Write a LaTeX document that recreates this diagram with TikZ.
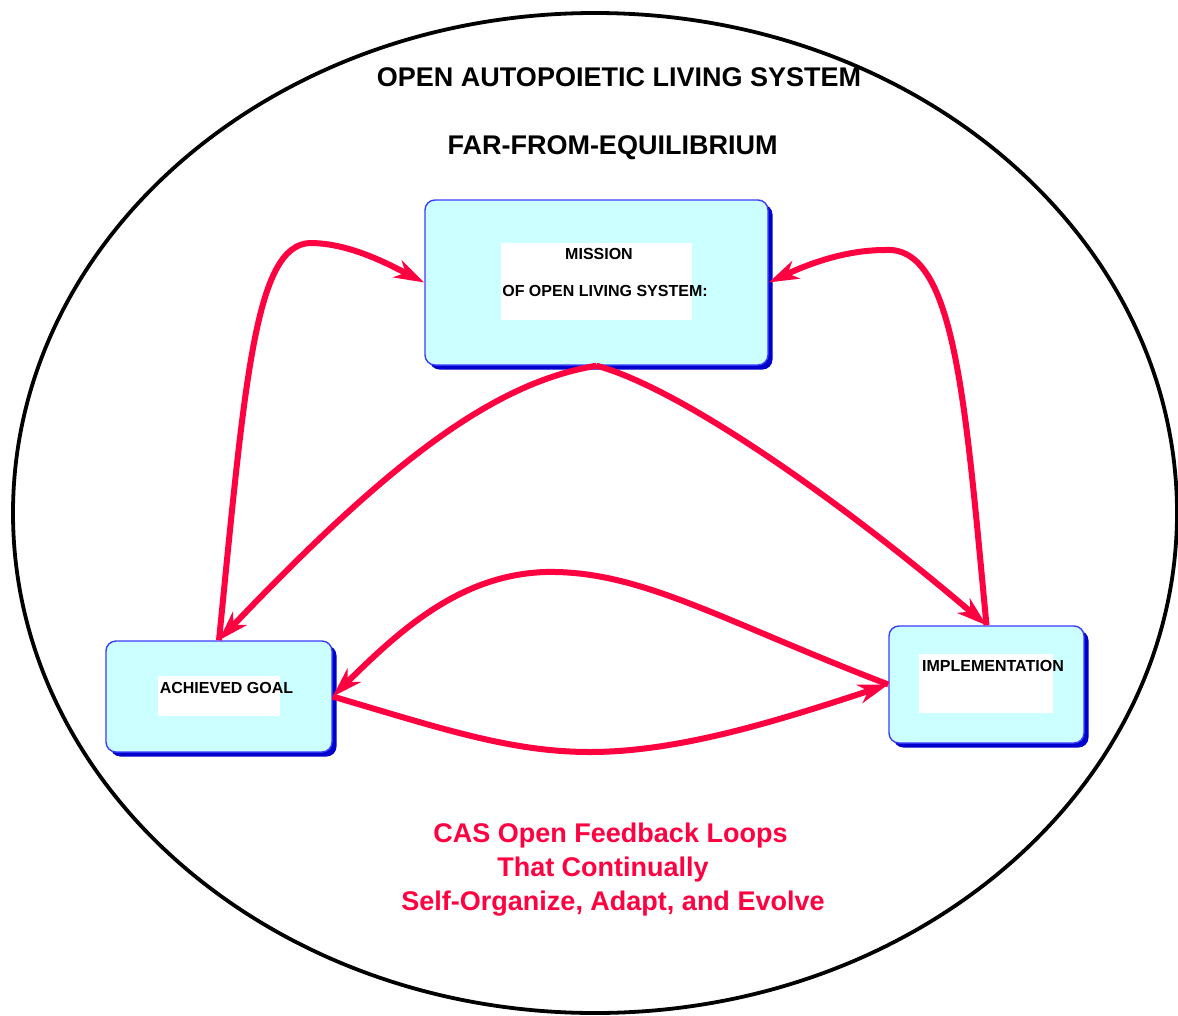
\documentclass[tikz,border=0pt]{standalone}
\usepackage{fontspec}
\setmainfont{Liberation Sans}
\usetikzlibrary{arrows.meta,shadows}

\definecolor{loopred}{RGB}{255,0,64}
\definecolor{boxfill}{RGB}{204,255,255}
\definecolor{boxedge}{RGB}{60,60,255}
\definecolor{boxshade}{RGB}{0,0,204}

\begin{document}
\begin{tikzpicture}[x=1pt,y=-1pt,
  livebox/.style={draw=boxedge, line width=1.4pt, fill=boxfill, rounded corners=10pt,
    inner sep=0pt,
    drop shadow={shadow xshift=4.5pt, shadow yshift=-4.5pt, fill=boxshade, opacity=1}},
  whitepatch/.style={fill=white, inner sep=0pt},
  boxtext/.style={font=\fontsize{16}{19}\selectfont\bfseries, inner sep=0pt, anchor=base},
  headline/.style={font=\fontsize{27}{32}\selectfont\bfseries, inner sep=0pt, anchor=base},
  motto/.style={font=\fontsize{27}{32}\selectfont\bfseries, text=loopred, inner sep=0pt, anchor=base},
  feedback/.style={draw=loopred, line width=6pt,
    -{Stealth[length=30pt,width=19pt,inset=9pt]}}
]
\useasboundingbox (0,0) rectangle (1178,1015);

% system boundary
\draw[line width=3.8pt] (595,513) ellipse [x radius=582pt, y radius=500pt];

% headings
\node[headline] (title) at (619,86.7) {OPEN AUTOPOIETIC LIVING SYSTEM};
\node[headline] (state) at (612.5,154.7) {FAR-FROM-EQUILIBRIUM};

% the three stages
\node[livebox, minimum width=343pt, minimum height=165pt] (mission) at (596.5,282.5) {};
\node[whitepatch, minimum width=191pt, minimum height=77pt] (missionpatch) at (596.5,281.5) {};
\node[boxtext] (missionA) at (599,259.7) {MISSION};
\node[boxtext] (missionB) at (605,296.7) {OF OPEN LIVING SYSTEM:};

\node[livebox, minimum width=226pt, minimum height=111pt] (goal) at (219,696.5) {};
\node[whitepatch, minimum width=122pt, minimum height=40pt] (goalpatch) at (219,696) {};
\node[boxtext] (goaltext) at (226.5,693.7) {ACHIEVED GOAL};

\node[livebox, minimum width=195pt, minimum height=117pt] (impl) at (986.5,684.5) {};
\node[whitepatch, minimum width=134pt, minimum height=59pt] (implpatch) at (986,683.5) {};
\node[boxtext] (impltext) at (993,671.7) {IMPLEMENTATION};

% outer feedback loops
\draw[feedback] (goal.north) .. controls (245,380) and (255,245) .. (310,243)
  .. controls (350,243) and (390,265) .. (mission.west);
\draw[feedback] (impl.north) .. controls (965,400) and (955,245) .. (885,250)
  .. controls (840,250) and (800,268) .. (mission.east);

% mission feeds both stages
\draw[feedback] (mission.south) .. controls (500,382) and (400,450) .. (goal.north);
\draw[feedback] (mission.south) .. controls (680,388) and (840,500) .. (impl.north);

% loop between goal and implementation
\draw[feedback] (impl.west) .. controls (720,620) and (640,570) .. (545,572)
  .. controls (460,575) and (400,630) .. (goal.east);
\draw[feedback] (goal.east) .. controls (440,728) and (510,752) .. (590,752)
  .. controls (680,752) and (780,720) .. (impl.west);

% caption
\node[motto] (mottoA) at (610.5,842.7) {CAS Open Feedback Loops};
\node[motto] (mottoB) at (603,876.7) {That Continually};
\node[motto] (mottoC) at (613,910.7) {Self-Organize, Adapt, and Evolve};
\end{tikzpicture}
\end{document}
